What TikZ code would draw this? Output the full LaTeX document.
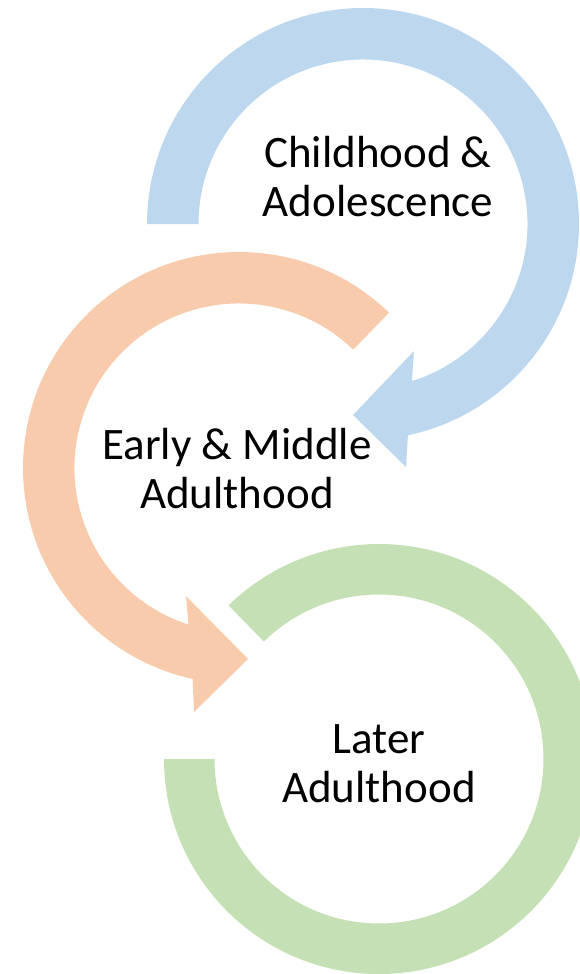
\documentclass[tikz,border=0pt]{standalone}
\usepackage{fontspec}
\setmainfont{Carlito}
\definecolor{cblue}{RGB}{189,215,238}
\definecolor{corange}{RGB}{248,203,173}
\definecolor{cgreen}{RGB}{197,224,180}
\begin{document}
\begin{tikzpicture}[x=1pt,y=1pt,
  lbl/.style={align=center,inner sep=0pt,text=black,font=\fontsize{45}{49}\selectfont}]
\useasboundingbox (0,0) rectangle (580,-974);
\clip (0,0) rectangle (580,-974);
\coordinate (bc) at (363,-224);
\coordinate (oc) at (239,-468);
\coordinate (gc) at (379,-759);
% blue arrow
\fill[cblue] ([shift={(bc)}]180:216pt) arc[start angle=180,end angle=-78,radius=216pt]
  -- (406,-467) -- (353,-415) -- (414,-351)
  -- ([shift={(bc)}]-72.7:164.5pt) arc[start angle=-72.7,end angle=180,radius=164.5pt] -- cycle;
% orange arrow
\fill[corange] ([shift={(oc)}]46:216pt) arc[start angle=46,end angle=257.6,radius=216pt]
  -- (194,-712) -- (248,-659) -- (186,-596)
  -- ([shift={(oc)}]252.1:164.5pt) arc[start angle=252.1,end angle=46,radius=164.5pt] -- cycle;
% green arc
\fill[cgreen] ([shift={(gc)}]180:215pt) arc[start angle=180,end angle=494.4,radius=215pt]
  -- ([shift={(gc)}]134.4:164.5pt) arc[start angle=494.4,end angle=180,radius=164.5pt] -- cycle;
\node[lbl] (t1) at (378,-177) {Childhood \&\\Adolescence};
\node[lbl] (t2) at (237,-469) {Early \& Middle\\Adulthood};
\node[lbl] (t3) at (379,-764) {Later\\Adulthood};
\end{tikzpicture}
\end{document}
